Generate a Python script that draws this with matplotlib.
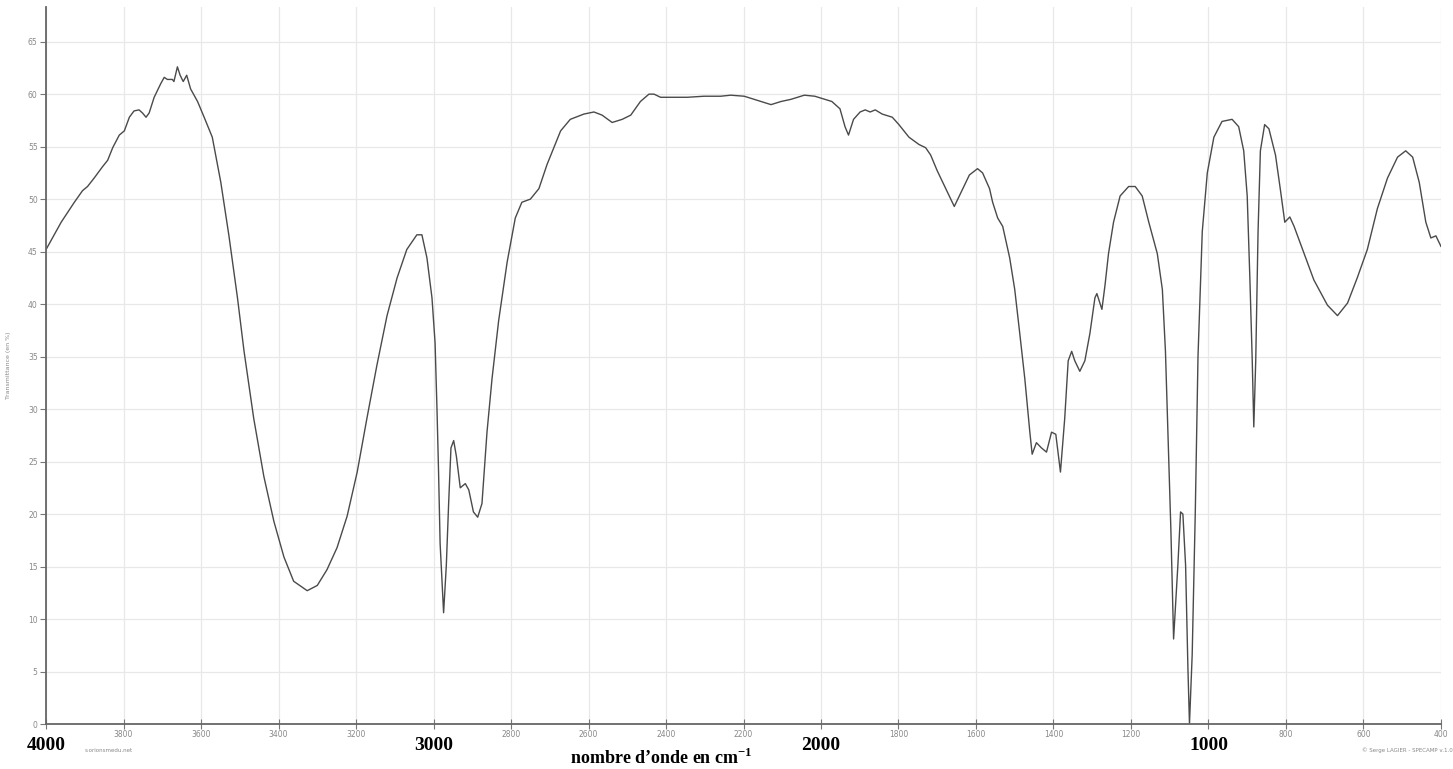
import matplotlib.pyplot as plt
import matplotlib.transforms as mtransforms
import numpy as np

plt.rcParams['mathtext.fontset'] = 'custom'
plt.rcParams['mathtext.rm'] = 'Liberation Serif'
plt.rcParams['mathtext.bf'] = 'Liberation Serif:bold'

# IR spectrum (wavenumber in cm-1, transmittance in %)
wavenumber = [4000, 3961, 3927, 3906, 3893, 3876, 3854, 3841, 3828, 3811, 3798, 3785, 3773, 3760,
              3751, 3742, 3734, 3721, 3704, 3695, 3687, 3674, 3670, 3661, 3654, 3646, 3637, 3627,
              3609, 3592, 3571, 3549, 3528, 3506, 3489, 3464, 3438, 3412, 3386, 3361, 3326, 3300,
              3275, 3249, 3223, 3197, 3172, 3146, 3120, 3094, 3069, 3043, 3030, 3017, 3004, 2996,
              2991, 2987, 2983, 2974, 2967, 2961, 2955, 2948, 2941, 2931, 2918, 2909, 2897, 2886,
              2875, 2862, 2849, 2832, 2810, 2789, 2772, 2750, 2728, 2707, 2672, 2647, 2612, 2586,
              2565, 2539, 2513, 2491, 2466, 2444, 2431, 2414, 2345, 2302, 2259, 2233, 2198, 2172,
              2138, 2129, 2103, 2078, 2043, 2016, 1972, 1951, 1938, 1929, 1916, 1899, 1886, 1873,
              1860, 1842, 1816, 1799, 1773, 1747, 1730, 1717, 1700, 1678, 1656, 1639, 1617, 1596,
              1583, 1565, 1557, 1544, 1531, 1513, 1500, 1487, 1474, 1461, 1455, 1444, 1431, 1418,
              1405, 1394, 1382, 1371, 1362, 1353, 1345, 1332, 1319, 1306, 1293, 1288, 1275, 1267,
              1258, 1245, 1228, 1206, 1189, 1171, 1154, 1132, 1119, 1111, 1103, 1097, 1090, 1079,
              1072, 1066, 1059, 1053, 1049, 1042, 1034, 1027, 1016, 1003, 986, 965, 939, 922,
              909, 900, 893, 887, 883, 878, 872, 866, 855, 844, 827, 814, 803, 790,
              779, 753, 728, 693, 667, 641, 616, 590, 564, 538, 512, 491, 473, 456,
              439, 426, 413, 400]
transmittance = [45.2, 47.8, 49.7, 50.8, 51.2, 52.0, 53.1, 53.7, 54.9, 56.1, 56.5, 57.8, 58.4, 58.5,
                 58.2, 57.8, 58.2, 59.7, 61.0, 61.6, 61.4, 61.4, 61.2, 62.6, 61.8, 61.2, 61.8, 60.5,
                 59.3, 57.8, 55.9, 51.6, 46.5, 40.6, 35.5, 29.1, 23.6, 19.3, 15.9, 13.6, 12.7, 13.2,
                 14.7, 16.8, 19.8, 24.0, 29.1, 34.2, 38.9, 42.5, 45.2, 46.6, 46.6, 44.4, 40.6, 36.3,
                 29.9, 24.0, 17.2, 10.6, 15.1, 21.0, 26.3, 27.0, 25.5, 22.5, 22.9, 22.3, 20.2, 19.7,
                 21.0, 27.8, 32.9, 38.4, 44.0, 48.2, 49.7, 50.0, 51.0, 53.3, 56.5, 57.6, 58.1, 58.3,
                 58.0, 57.3, 57.6, 58.0, 59.3, 60.0, 60.0, 59.7, 59.7, 59.8, 59.8, 59.9, 59.8, 59.5,
                 59.1, 59.0, 59.3, 59.5, 59.9, 59.8, 59.3, 58.6, 56.9, 56.1, 57.6, 58.3, 58.5, 58.3,
                 58.5, 58.1, 57.8, 57.1, 55.9, 55.2, 54.9, 54.2, 52.7, 51.0, 49.3, 50.6, 52.3, 52.9,
                 52.5, 51.0, 49.7, 48.2, 47.4, 44.4, 41.4, 37.2, 32.9, 27.8, 25.7, 26.8, 26.3, 25.9,
                 27.8, 27.6, 24.0, 29.1, 34.6, 35.5, 34.6, 33.6, 34.6, 37.2, 40.6, 41.0, 39.5, 41.8,
                 44.8, 47.8, 50.3, 51.2, 51.2, 50.3, 47.8, 44.8, 41.4, 35.5, 25.7, 18.5, 8.1, 15.1,
                 20.2, 20.0, 15.1, 5.3, 0.0, 6.6, 20.2, 35.0, 46.9, 52.5, 55.9, 57.4, 57.6, 56.9,
                 54.6, 50.3, 42.3, 34.6, 28.3, 34.6, 46.9, 54.6, 57.1, 56.7, 54.2, 50.8, 47.8, 48.3,
                 47.4, 44.8, 42.3, 39.9, 38.9, 40.1, 42.5, 45.2, 49.1, 52.0, 54.0, 54.6, 54.0, 51.6,
                 47.8, 46.3, 46.5, 45.5]

small_ticks = [3800, 3600, 3400, 3200, 2800, 2600, 2400, 2200, 1800, 1600, 1400, 1200, 800, 600, 400]
big_ticks = [4000, 3000, 2000, 1000]

fig = plt.figure(figsize=(14.53, 7.69), dpi=100)
ax = fig.add_axes([0.0317, 0.0585, 0.96, 0.9324])

ax.plot(wavenumber, transmittance, color='#4a4a4a', lw=1.0)

ax.set_xlim(4000, 400)
ax.set_ylim(0, 68.3)

ax.set_xticks(np.arange(4000, 399, -200))
ax.set_xticklabels([str(t) if t in small_ticks else '' for t in np.arange(4000, 399, -200)])
ax.set_yticks(np.arange(0, 66, 5))
ax.grid(True, color='#e8e8e8', lw=0.9)
ax.set_axisbelow(True)

for s in ['top', 'right']:
    ax.spines[s].set_visible(False)
for s in ['left', 'bottom']:
    ax.spines[s].set_color('#666666')
    ax.spines[s].set_linewidth(1.3)

ax.tick_params(axis='x', direction='inout', length=7, width=0.8, colors='#777777',
               labelsize=5.5, labelcolor='#888888', pad=1)
ax.tick_params(axis='y', direction='out', length=4, width=0.8, colors='#777777',
               labelsize=5.5, labelcolor='#888888', pad=2)

ax.set_ylabel('Transmittance (en %)', fontsize=4.5, color='#888888', labelpad=12)

# bold wavenumber labels under the axis
trans = mtransforms.blended_transform_factory(ax.transData, fig.transFigure)
for t in big_ticks:
    ax.text(t, 0.030, str(t), transform=trans, ha='center', va='center',
            family='Liberation Serif', fontweight='bold', fontsize=14, color='black')

fig.text(0.455, 0.015, 'nombre d\u2019onde en cm$^{\\mathbf{-1}}$', ha='center', va='center',
         family='Liberation Serif', fontweight='bold', fontsize=13, color='black')

fig.text(0.058, 0.024, 's.orionsmedu.net', ha='left', va='center', fontsize=4, color='#888888')
fig.text(0.9995, 0.024, '\u00a9 Serge LAGIER - SPECAMP v.1.0', ha='right', va='center',
         fontsize=4, color='#888888')

fig.savefig('out.png', dpi=100)
